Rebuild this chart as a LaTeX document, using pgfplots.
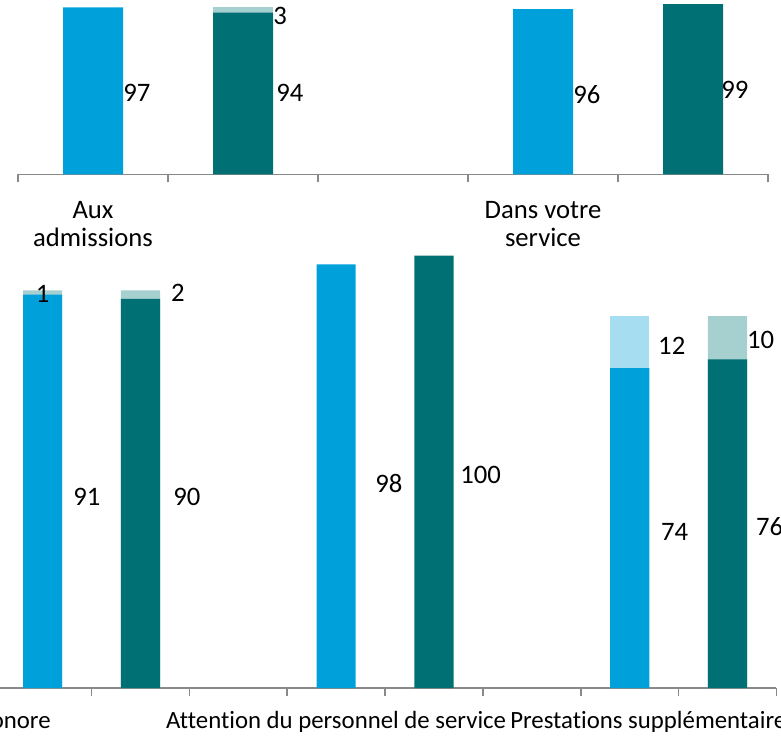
\documentclass[border=0pt]{standalone}
\usepackage{fontspec}
\setmainfont{Carlito}[Ligatures=NoCommon]
\usepackage{pgfplots}
\pgfplotsset{compat=1.18}

\definecolor{cblue}{RGB}{0,161,218}
\definecolor{cbluel}{RGB}{166,221,240}
\definecolor{cteal}{RGB}{0,112,117}
\definecolor{cteall}{RGB}{166,207,208}
\definecolor{axisgrey}{RGB}{137,137,137}

\newcommand{\lblfont}{\fontsize{20}{21}\selectfont}
\newcommand{\catfont}{\fontsize{18.6}{20}\selectfont}

\pgfplotsset{
  panel/.style={
    scale only axis, clip=false,
    axis x line*=bottom, axis y line=none,
    ymin=0, ytick=\empty,
    xticklabels={},
    xtick align=outside,
    major tick length=6pt,
    axis line style={draw=axisgrey, line width=1.25pt},
    every outer x axis line/.append style={draw=axisgrey, line width=1.25pt},
    tick style={draw=axisgrey, line width=1.25pt},
  },
  bar/.style={ybar, bar width=0.4, bar shift=0pt, draw=none},
  lab/.style={only marks, mark=none, nodes near coords,
    point meta=explicit symbolic,
    every node near coord/.append style={anchor=west, inner sep=0pt,
      font=\lblfont, text=black}},
}

\begin{document}
\begin{tikzpicture}
\useasboundingbox (0pt,0pt) rectangle (585.75pt,551.25pt);

% top panel
\begin{axis}[panel,
  at={(13.5pt,420.375pt)}, anchor=south west,
  width=562.5pt, height=130.875pt,
  xmin=-0.5, xmax=4.5, ymax=101.33,
  xtick={-0.5,0.5,...,4.5},
]
\addplot[bar, fill=cteall] coordinates {(1,97)};
\addplot[bar, fill=cblue] coordinates {(0,97) (3,96)};
\addplot[bar, fill=cteal] coordinates {(1,94) (4,99)};
\addplot[lab] coordinates {(0.2,47.6)[97] (1.22,47.6)[94] (1.2,92.3)[3]
  (3.2,46.2)[96] (4.187,49.4)[99]};
\node[anchor=north, inner sep=0pt, align=center, font=\lblfont, yshift=-20pt]
  at (axis cs:0,0) {Aux\\admissions};
\node[anchor=north, inner sep=0pt, align=center, font=\lblfont, yshift=-20pt]
  at (axis cs:3,0) {Dans votre\\service};
\end{axis}

% bottom panel
\begin{axis}[panel,
  at={(-78.15pt,35.25pt)}, anchor=south west,
  width=660.5pt, height=324.2pt,
  xmin=-1.5, xmax=7.5, ymax=100,
  xtick={-1.5,-0.5,...,7.5},
]
\addplot[bar, fill=cteall] coordinates {(0,92) (1,92) (7,86)};
\addplot[bar, fill=cbluel] coordinates {(6,86)};
\addplot[bar, fill=cblue] coordinates {(0,91) (3,98) (6,74)};
\addplot[bar, fill=cteal] coordinates {(1,90) (4,100) (7,76)};
\addplot[lab] coordinates {(1.312,91.4)[2] (0.311,44.2)[91] (1.333,44.2)[90]
  (3.397,47.3)[98] (4.266,49.2)[100] (6.289,79.1)[12] (6.319,36.1)[74]
  (7.198,80.5)[10] (7.290,37.4)[76]};
\addplot[lab, every node near coord/.append style={anchor=center}]
  coordinates {(0,91.1)[1]};
\node[anchor=base east, inner sep=0pt, font=\catfont, yshift=-30pt]
  at (axis cs:0.086,0) {Isolation sonore};
\node[anchor=base, inner sep=0pt, font=\catfont, yshift=-30pt]
  at (axis cs:3,0) {Attention du personnel de service};
\node[anchor=base west, inner sep=0pt, font=\catfont, yshift=-30pt]
  at (axis cs:4.777,0) {Prestations supplémentaires};
\end{axis}
\end{tikzpicture}
\end{document}
